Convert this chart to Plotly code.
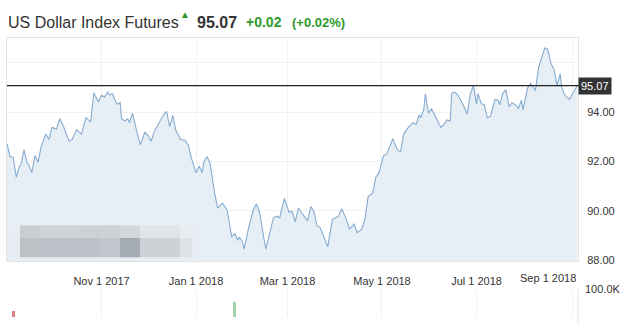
import plotly.graph_objects as go

W, H = 622, 329

dates = [
"2017-09-01","2017-09-03","2017-09-05","2017-09-07","2017-09-09","2017-09-10","2017-09-12","2017-09-14","2017-09-15","2017-09-17","2017-09-19","2017-09-21","2017-09-23","2017-09-26","2017-09-28","2017-09-30",
"2017-10-03","2017-10-05","2017-10-07","2017-10-11","2017-10-13","2017-10-16","2017-10-19","2017-10-22","2017-10-25","2017-10-27","2017-10-30",
"2017-11-01","2017-11-03","2017-11-05","2017-11-06","2017-11-08","2017-11-11","2017-11-13","2017-11-14","2017-11-16","2017-11-18","2017-11-19","2017-11-21","2017-11-22","2017-11-24","2017-11-26","2017-11-29",
"2017-12-01","2017-12-03","2017-12-05","2017-12-09","2017-12-11","2017-12-13","2017-12-15","2017-12-17","2017-12-19","2017-12-22","2017-12-25","2017-12-27","2017-12-29",
"2018-01-01","2018-01-03","2018-01-05","2018-01-06","2018-01-08","2018-01-10","2018-01-13","2018-01-15","2018-01-18","2018-01-21","2018-01-24","2018-01-26","2018-01-28","2018-01-29","2018-01-31",
"2018-02-01","2018-02-04","2018-02-07","2018-02-09","2018-02-11","2018-02-15","2018-02-17","2018-02-20","2018-02-22","2018-02-24","2018-02-27",
"2018-03-02","2018-03-04","2018-03-06","2018-03-08","2018-03-11","2018-03-14","2018-03-16","2018-03-18","2018-03-20","2018-03-22","2018-03-27","2018-03-30",
"2018-04-01","2018-04-03","2018-04-05","2018-04-08","2018-04-10","2018-04-13","2018-04-15","2018-04-18","2018-04-20","2018-04-22","2018-04-25","2018-04-27","2018-04-29",
"2018-05-02","2018-05-04","2018-05-08","2018-05-11","2018-05-13","2018-05-15","2018-05-18","2018-05-21","2018-05-23","2018-05-25","2018-05-26","2018-05-28","2018-05-29","2018-05-31",
"2018-06-02","2018-06-04","2018-06-08","2018-06-10","2018-06-12","2018-06-14","2018-06-15","2018-06-17","2018-06-19","2018-06-22","2018-06-25","2018-06-27","2018-06-29",
"2018-07-01","2018-07-02","2018-07-04","2018-07-06","2018-07-08","2018-07-10","2018-07-13","2018-07-15","2018-07-16","2018-07-18","2018-07-20","2018-07-22","2018-07-24","2018-07-27","2018-07-28","2018-07-30","2018-07-31",
"2018-08-03","2018-08-05","2018-08-08","2018-08-10","2018-08-12","2018-08-14","2018-08-16","2018-08-18","2018-08-20","2018-08-22","2018-08-24","2018-08-25","2018-08-27","2018-08-30","2018-09-01","2018-09-04",
]

prices = [
92.72, 92.20, 92.17, 91.36, 91.81, 91.88, 92.48, 91.94, 91.88, 91.55, 92.24, 91.97, 92.59, 93.11, 92.89, 93.38,
93.31, 93.73, 93.50, 92.83, 92.89, 93.29, 93.11, 93.77, 93.60, 94.77, 94.42,
94.68, 94.61, 94.81, 94.70, 94.74, 94.32, 94.38, 93.73, 93.64, 93.73, 93.57, 93.96, 93.64, 93.15, 92.68, 93.18,
93.05, 92.82, 93.21, 93.70, 93.89, 94.03, 93.41, 93.87, 93.25, 92.89, 92.86, 92.66, 92.14,
91.55, 91.81, 91.55, 91.97, 92.20, 91.94, 90.71, 90.12, 90.32, 90.05, 88.95, 89.08, 88.82, 88.95, 88.75,
88.46, 89.34, 90.05, 90.29, 89.93, 88.46, 89.01, 89.73, 89.79, 89.73, 90.51,
89.95, 89.99, 89.56, 90.12, 89.86, 89.60, 90.18, 89.99, 89.40, 89.34, 88.56, 89.66,
89.73, 89.79, 90.09, 89.66, 89.27, 89.47, 89.12, 89.27, 89.66, 90.57, 90.73, 91.36, 91.55,
92.24, 92.29, 92.92, 92.46, 92.40, 93.11, 93.38, 93.57, 93.50, 93.89, 93.77, 94.12, 94.74, 93.96,
94.12, 93.89, 93.38, 93.50, 93.68, 93.64, 94.77, 94.81, 94.68, 94.35, 93.92, 94.74, 95.07,
94.32, 94.74, 94.35, 94.29, 93.77, 93.83, 94.51, 94.48, 94.29, 94.77, 94.90, 94.22, 94.38, 94.25, 94.14, 94.48, 94.09,
94.98, 95.16, 94.87, 95.79, 96.24, 96.59, 96.54, 95.98, 95.72, 95.07, 95.55, 95.00, 94.68, 94.51, 94.74, 95.07,
]

vol_dates = ["2017-09-05", "2018-01-26"]
vol_values = [20000, 55000]
vol_colors = ["#d98080", "#9fd4aa"]

last_price = 95.07
title_name = "US Dollar Index Futures"
change_abs = "+0.02"
change_pct = "(+0.02%)"

x_tickvals = ["2017-11-01", "2018-01-01", "2018-03-01", "2018-05-01", "2018-07-01", "2018-09-01"]
x_ticktext = ["Nov 1 2017", "Jan 1 2018", "Mar 1 2018", "May 1 2018", "Jul 1 2018", ""]
sep_label = "Sep 1 2018"
y_tickvals = [88, 90, 92, 94, 96]
y_ticktext = ["88.00", "90.00", "92.00", "94.00", ""]

FONT = "Liberation Sans, Arial, sans-serif"
GREEN = "#2f9a2f"
DARK = "#333333"

def px(x):
    return x / W

def py(y):
    return 1 - y / H

x_left, x_right = 7, 578
price_top, price_bot = 33, 264
vol_top, vol_bot = 293, 322

fig = go.Figure()

fig.add_trace(go.Scatter(
    x=dates, y=prices, mode="lines",
    line=dict(color="#87acd0", width=1.1),
    fill="tozeroy", fillcolor="#e6eef6",
    xaxis="x", yaxis="y", hoverinfo="skip", showlegend=False,
))

fig.add_trace(go.Bar(
    x=vol_dates, y=vol_values, marker=dict(color=vol_colors, line=dict(width=0)),
    width=[86400000 * 2.0] * len(vol_dates),
    xaxis="x2", yaxis="y2", showlegend=False, hoverinfo="skip", cliponaxis=False,
))

xrange = ["2017-09-01", "2018-09-04 12:00"]
grid = "#f1f1f1"

fig.update_layout(
    width=W, height=H,
    margin=dict(l=0, r=0, t=0, b=0),
    paper_bgcolor="white", plot_bgcolor="white",
    font=dict(family=FONT, color=DARK, size=11),
    xaxis=dict(
        domain=[px(x_left), px(x_right)], range=xrange, type="date",
        tickvals=x_tickvals, ticktext=x_ticktext,
        showgrid=True, gridcolor=grid, gridwidth=1,
        showline=True, linecolor="#e2e2e2", mirror=True,
        ticks="", ticklabelstandoff=10, zeroline=False,
        tickfont=dict(size=11, color=DARK, family=FONT),
        anchor="y",
    ),
    yaxis=dict(
        domain=[py(price_bot), py(price_top)], range=[87.97, 97.0],
        side="right", tickvals=y_tickvals, ticktext=y_ticktext,
        showgrid=True, gridcolor=grid, gridwidth=1,
        showline=True, linecolor="#e2e2e2", mirror=True,
        ticks="", ticklabelstandoff=6, zeroline=False,
        tickfont=dict(size=11, color=DARK, family=FONT),
        anchor="x",
    ),
    xaxis2=dict(
        domain=[px(x_left), px(x_right)], range=xrange, type="date",
        tickvals=x_tickvals, showticklabels=False,
        showgrid=True, gridcolor=grid, showline=False, zeroline=False,
        anchor="y2", matches="x",
    ),
    yaxis2=dict(
        domain=[py(vol_bot), py(vol_top)], range=[0, 100000],
        side="right", tickvals=[100000], ticktext=["100.0K"],
        showgrid=True, gridcolor="#ececec", showline=False, zeroline=False,
        ticks="", ticklabelstandoff=6,
        tickfont=dict(size=11, color=DARK, family=FONT),
        anchor="x2",
    ),
    bargap=0,
)

shapes = []
# last price line
shapes.append(dict(type="line", xref="paper", yref="y", x0=px(x_left), x1=px(x_right + 2),
                   y0=last_price, y1=last_price, line=dict(color="#222222", width=1.2)))
# right border line of volume panel
shapes.append(dict(type="line", xref="paper", yref="paper", x0=px(x_right), x1=px(x_right),
                   y0=0, y1=py(vol_top), line=dict(color="#e2e2e2", width=1)))

# blurred watermark area (decoration)
shapes.append(dict(type="rect", xref="paper", yref="paper", x0=px(13), x1=px(196), y0=py(262), y1=py(226),
                   fillcolor="#e9edf1", line=dict(width=0), layer="above"))
blocks = [
    (20, 40, 227, 240, "#c9ced3"), (40, 80, 227, 240, "#d0d4d9"), (80, 100, 227, 240, "#ccd1d6"),
    (100, 120, 227, 240, "#ccd2d5"), (120, 140, 227, 240, "#d3d8dc"), (140, 180, 227, 240, "#e0e5ea"),
    (20, 40, 240, 260, "#bcc1c6"), (40, 80, 240, 260, "#bcc2c8"), (80, 100, 240, 260, "#bcc2c8"),
    (100, 120, 240, 260, "#c1c7cc"), (120, 140, 240, 260, "#a6acb3"), (140, 180, 240, 260, "#cdd2d6"),
    (180, 192, 240, 260, "#dfe3e7"),
]
for (a, b, c, d, col) in blocks:
    shapes.append(dict(type="rect", xref="paper", yref="paper", x0=px(a), x1=px(b), y0=py(d), y1=py(c),
                       fillcolor=col, line=dict(width=0), layer="above"))
fig.update_layout(shapes=shapes)

ann = []
ann.append(dict(text=title_name, xref="paper", yref="paper", x=px(6), y=py(17), xanchor="left", yanchor="middle",
                showarrow=False, font=dict(size=16, color=DARK, family=FONT)))
ann.append(dict(text="\u25B2", xref="paper", yref="paper", x=px(185), y=py(9), xanchor="center", yanchor="middle",
                showarrow=False, font=dict(size=10, color=GREEN, family=FONT)))
ann.append(dict(text="<b>%.2f</b>" % last_price, xref="paper", yref="paper", x=px(195), y=py(17), xanchor="left",
                yanchor="middle", showarrow=False, font=dict(size=16, color=DARK, family=FONT)))
ann.append(dict(text="<b>%s</b>" % change_abs, xref="paper", yref="paper", x=px(244), y=py(17), xanchor="left",
                yanchor="middle", showarrow=False, font=dict(size=14, color=GREEN, family=FONT)))
ann.append(dict(text="<b>%s</b>" % change_pct, xref="paper", yref="paper", x=px(290), y=py(17), xanchor="left",
                yanchor="middle", showarrow=False, font=dict(size=13, color=GREEN, family=FONT)))
# last price label box
ann.append(dict(text="%.2f" % last_price, xref="paper", yref="y", x=px(x_right), y=last_price, xanchor="left",
                yanchor="middle", showarrow=False, bgcolor="#333333", borderpad=2,
                font=dict(size=11, color="white", family=FONT)))
# Sep label kept inside plot
ann.append(dict(text=sep_label, xref="paper", yref="paper", x=px(x_right), y=py(281), xanchor="right",
                yanchor="middle", showarrow=False, font=dict(size=11, color=DARK, family=FONT)))
fig.update_layout(annotations=ann)

fig.write_html("out.html")
